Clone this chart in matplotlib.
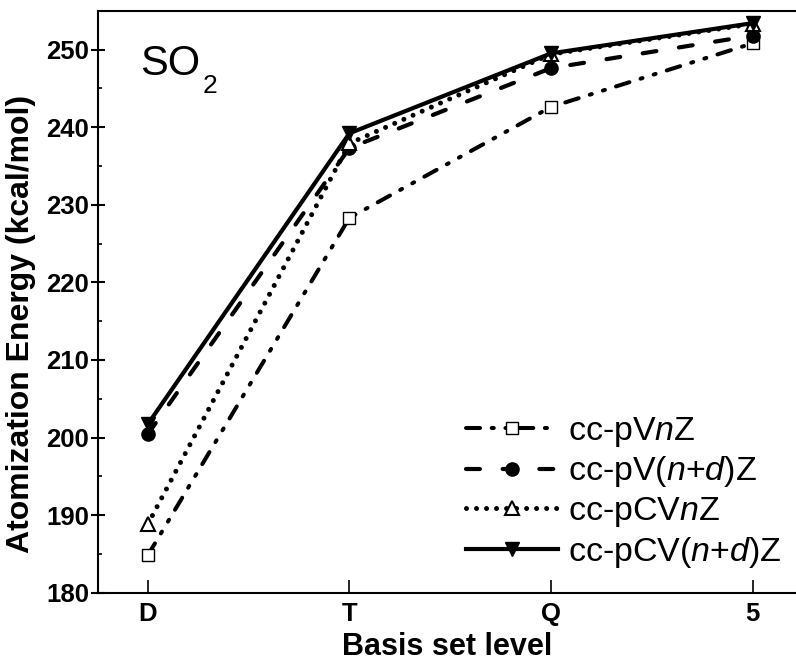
import matplotlib
matplotlib.use("Agg")
import matplotlib.pyplot as plt
from matplotlib.ticker import MultipleLocator

plt.rcParams['font.family'] = ['Liberation Sans', 'DejaVu Sans']
plt.rcParams['mathtext.fontset'] = 'custom'
plt.rcParams['mathtext.rm'] = 'Liberation Sans'
plt.rcParams['mathtext.it'] = 'Liberation Sans:italic'
plt.rcParams['lines.scale_dashes'] = False

levels = ['D', 'T', 'Q', '5']
x = [1, 2, 3, 4]
pVnZ = [184.8, 228.3, 242.6, 250.8]
pVndZ = [200.4, 237.3, 247.6, 251.8]
pCVnZ = [188.8, 237.9, 249.4, 253.3]
pCVndZ = [201.7, 239.2, 249.5, 253.4]

labels = ['cc-pV$\\mathit{n}$Z', 'cc-pV($\\mathit{n}$+$\\mathit{d}$)Z',
          'cc-pCV$\\mathit{n}$Z', 'cc-pCV($\\mathit{n}$+$\\mathit{d}$)Z']

W, H = 796, 664
fig = plt.figure(figsize=(W / 100, H / 100), dpi=100)
ax = fig.add_axes([97.7 / W, 1 - 592.7 / H, (W - 97.7) / W, (592.7 - 10.7) / H])

lw1 = 2.9
ax.plot(x, pVnZ, color='black', lw=lw1, dash_capstyle='round',
        linestyle=(0, (13 - lw1, 5.5 + lw1, 1.5, 5.5 + lw1, 1.5, 5.5 + lw1)),
        marker='s', ms=8.6, mfc='white', mec='black', mew=1.0, label=labels[0])
lw2 = 3.0
ax.plot(x, pVndZ, color='black', lw=lw2, dash_capstyle='round',
        linestyle=(0, (13 - lw2, 13.4 + lw2)),
        marker='o', ms=9.5, mfc='black', mec='black', label=labels[1])
lw3 = 3.6
ax.plot(x, pCVnZ, color='black', lw=lw3, dash_capstyle='round',
        linestyle=(0, (0.01, 7.2)),
        marker='^', ms=9.5, mfc='white', mec='black', mew=1.5, label=labels[2])
ax.plot(x, pCVndZ, color='black', lw=3.0, linestyle='-',
        marker='v', ms=9.5, mfc='black', mec='black', label=labels[3])

ax.set_xlim(0.752, 4 + 43.3 / 201.7)
ax.set_ylim(180, 255)
ax.set_xticks(x)
ax.set_xticklabels(levels)
ax.yaxis.set_major_locator(MultipleLocator(10))
ax.yaxis.set_minor_locator(MultipleLocator(5))

for s in ['left', 'bottom', 'top']:
    ax.spines[s].set_linewidth(1.5)
ax.spines['right'].set_visible(False)

ax.tick_params(axis='x', which='major', direction='in', length=9.6, width=1.2,
               pad=7, labelsize=18.5)
ax.tick_params(axis='y', which='major', direction='inout', length=10, width=1.5,
               pad=1, labelsize=18.5)
ax.tick_params(axis='y', which='minor', direction='in', length=3, width=1.2)
for lab in ax.get_xticklabels() + ax.get_yticklabels():
    lab.set_fontweight('bold')

ax.set_xlabel('Basis set level', fontsize=22, fontweight='bold', labelpad=4)
ax.set_ylabel('Atomization Energy (kcal/mol)', fontsize=23, fontweight='bold')
ax.yaxis.set_label_coords(-0.089, 0.4617)

fig.text(140 / W, 1 - 75 / H, 'SO', fontsize=30, ha='left', va='baseline')
fig.text(203 / W, 1 - 93 / H, '2', fontsize=19, ha='left', va='baseline')

ax.legend(loc='lower right', bbox_to_anchor=(782 / W, 1 - 570 / H),
          bbox_transform=fig.transFigure, frameon=False, borderpad=0,
          borderaxespad=0, handlelength=2.7, handletextpad=0.3,
          labelspacing=0.17, fontsize=24.5, numpoints=1)

fig.savefig('out.png', dpi=100)
